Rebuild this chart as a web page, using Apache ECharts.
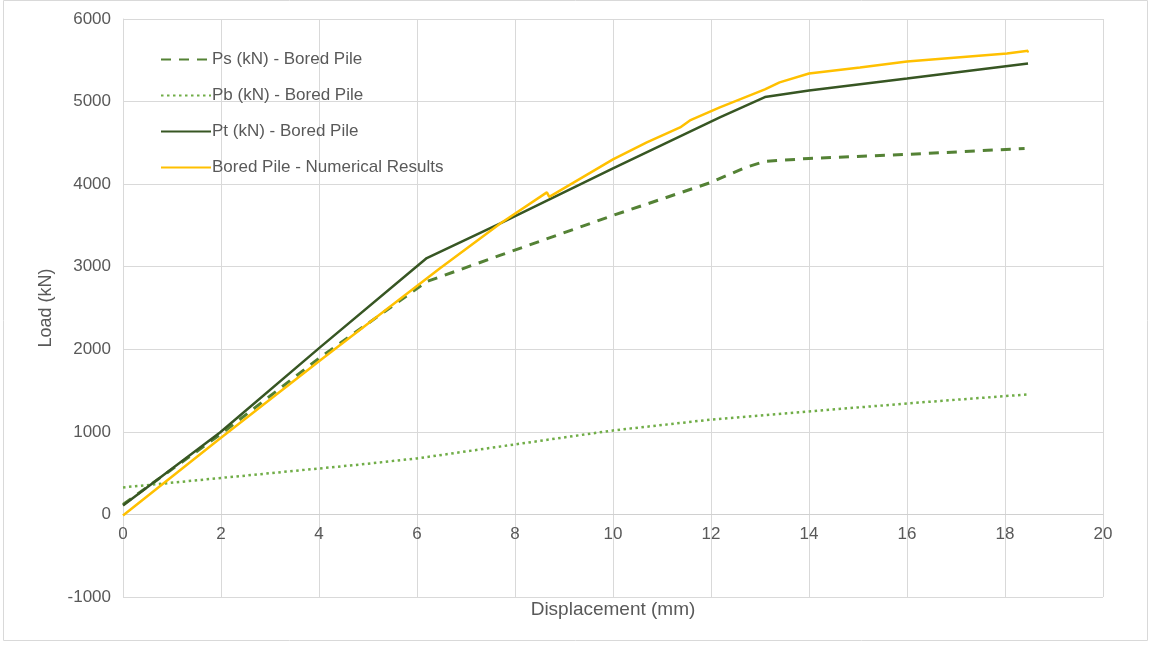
<!DOCTYPE html>
<html><head><meta charset="utf-8">
<script src="https://cdn.jsdelivr.net/npm/echarts@6/dist/echarts.min.js"></script>
<style>html,body{margin:0;padding:0;background:#fff}#c{width:1151px;height:645px}</style>
</head><body><div id="c"></div>
<script>
const xTicks = [0,2,4,6,8,10,12,14,16,18,20];
const yTicks = [-1000,0,1000,2000,3000,4000,5000,6000];

const psX = [0, 2, 4.02, 6.2, 7.69, 10.0, 12.0, 12.7, 13.1, 14, 16, 18.4];
const psY = [120, 975, 1900, 2820, 3137, 3621, 4021, 4202, 4275, 4311, 4360, 4432];

const pbX = [0, 4.22, 4.84, 6.0, 8.0, 10.0, 12.02, 14.0, 16.0, 18.45];
const pbY = [327, 569, 605, 678, 848, 1017, 1150, 1247, 1344, 1453];

const ptX = [0, 1.98, 4.02, 6.2, 7.7, 10.0, 12.18, 13.1, 14.0, 16.0, 18.47];
const ptY = [109, 993, 2023, 3105, 3524, 4190, 4808, 5055, 5135, 5280, 5462];

const numX = [0, 1.98, 4.02, 6.47, 7.7, 8.65, 8.7, 10.0, 10.69, 11.37, 11.57, 12.18, 13.1, 13.4, 14.0, 15.04, 16.0, 18.04, 18.47, 18.45];
const numY = [-12, 920, 1865, 2980, 3524, 3900, 3845, 4300, 4505, 4687, 4772, 4929, 5147, 5232, 5340, 5414, 5486, 5583, 5615, 5595];

const names = ['Ps (kN) - Bored Pile','Pb (kN) - Bored Pile','Pt (kN) - Bored Pile','Bored Pile - Numerical Results'];
const zip = (a,b)=>a.map((v,i)=>[v,b[i]]);

const yMin = yTicks[0], yMax = yTicks[yTicks.length-1];
const gridTop = 19, gridBottom = 48, gridLeft = 123, gridRight = 48, H = 645, W = 1151;
const plotH = H - gridTop - gridBottom;
const zeroOffset = -plotH * (0 - yMin) / (yMax - yMin);

const chart = echarts.init(document.getElementById('c'));
const txt = '#595959';
const ff = 'Liberation Sans, Arial, sans-serif';
chart.setOption({
  animation:false,
  textStyle:{fontFamily:ff},
  graphic:[
    {type:'rect',shape:{x:3.5,y:0.5,width:1144,height:640},style:{fill:'none',stroke:'#d9d9d9',lineWidth:1},silent:true},
    {type:'text',x:(gridLeft + W - gridRight)/2,y:610,style:{text:'Displacement (mm)',fontSize:19,fill:txt,fontFamily:ff,align:'center',verticalAlign:'middle'},silent:true,z:10}
  ],
  grid:{left:gridLeft,right:gridRight,top:gridTop,bottom:gridBottom,containLabel:false,outerBoundsMode:'none'},
  legend:{
    orient:'vertical',left:155,top:46,itemWidth:50,itemHeight:14,itemGap:19,
    itemStyle:{opacity:0},
    textStyle:{fontSize:17,color:txt,padding:[0,0,0,-4]},
    data:names
  },
  xAxis:{type:'value',min:0,max:20,interval:2,position:'bottom',offset:zeroOffset,
    axisLine:{show:true,onZero:false,lineStyle:{color:'#d0d0d0'}},axisTick:{show:false},
    axisLabel:{fontSize:17,color:txt,margin:11},
    splitLine:{show:true,lineStyle:{color:'#d9d9d9',width:1}}},
  yAxis:{type:'value',min:yMin,max:yMax,interval:1000,
    name:'Load (kN)',nameLocation:'middle',nameGap:68,nameRotate:90,
    nameTextStyle:{fontSize:18,color:txt},
    axisLine:{show:true,onZero:false,lineStyle:{color:'#d9d9d9'}},axisTick:{show:false},
    axisLabel:{fontSize:17,color:txt,margin:12,formatter:v=>String(v)},
    splitLine:{show:true,lineStyle:{color:'#d9d9d9',width:1}}},
  series:[
    {name:names[0],type:'line',data:zip(psX,psY),showSymbol:false,symbol:'none',
      lineStyle:{color:'#548235',width:3,type:[10,8]},itemStyle:{color:'#548235'}},
    {name:names[1],type:'line',data:zip(pbX,pbY),showSymbol:false,symbol:'none',
      lineStyle:{color:'#70AD47',width:2.5,type:[2.5,3.5]},itemStyle:{color:'#70AD47'}},
    {name:names[2],type:'line',data:zip(ptX,ptY),showSymbol:false,symbol:'none',
      lineStyle:{color:'#375623',width:2.5},itemStyle:{color:'#375623'}},
    {name:names[3],type:'line',data:zip(numX,numY),showSymbol:false,symbol:'none',
      lineStyle:{color:'#FFC000',width:2.5},itemStyle:{color:'#FFC000'}}
  ]
});
</script></body></html>
